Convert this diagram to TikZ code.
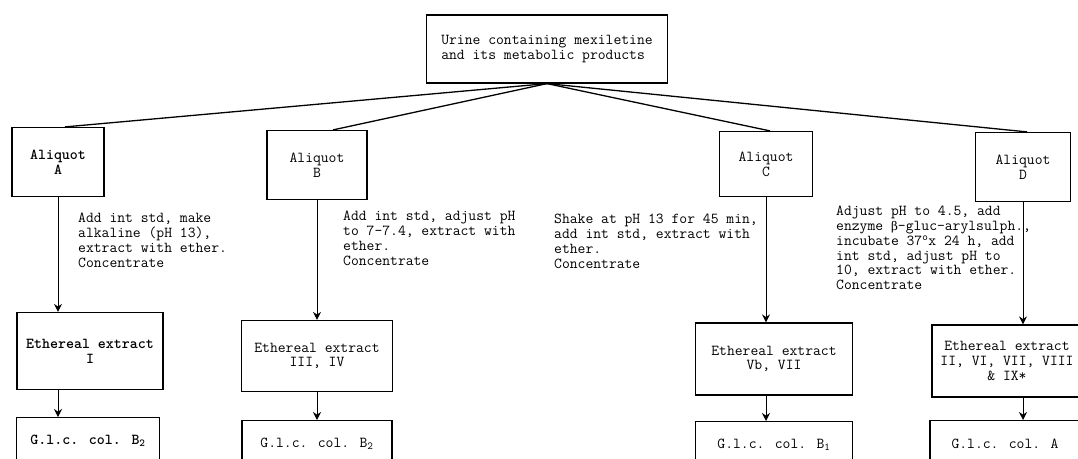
\documentclass[tikz,border=0pt]{standalone}
\usepackage{fontspec}
\newfontfamily\greekup{DejaVu Serif}
\usetikzlibrary{positioning, arrows.meta}

\begin{document}
\begin{tikzpicture}[
  x=1pt, y=-1pt,
  every node/.style={font=\ttfamily\fontsize{15.2}{14.8}\selectfont},
  box/.style={rectangle, draw, line width=1.2pt, align=center,
              inner sep=2pt},
  aliq/.style={box, minimum width=94pt, minimum height=69pt},
  ether/.style={box, minimum width=150pt, minimum height=74pt},
  glc/.style={box, anchor=north, minimum width=148pt,
              minimum height=46pt},
  heavy/.style={font=\ttfamily\bfseries\fontsize{15.2}{14.8}\selectfont},
  note/.style={anchor=north west, align=left, inner sep=0pt},
  link/.style={line width=1.3pt},
  arr/.style={-{Stealth[length=8pt,width=8pt]}, line width=1pt}
]
\useasboundingbox (0,0) rectangle (1078,458);
\clip (0,0) rectangle (1078,458);

\node[box, align=left, minimum width=241pt, minimum height=68pt]
  (urine) at (547,49) {Urine containing mexiletine\\and its metabolic products};

\node[aliq, heavy, minimum width=92pt] (aqA) at (58,162) {Aliquot\\A};
\node[aliq, minimum width=100pt] (aqB) at (317,165) {Aliquot\\B};
\node[aliq, minimum width=93pt, minimum height=65pt] (aqC) at (766,164) {Aliquot\\C};
\node[aliq, minimum width=95pt] (aqD) at (1023,167) {Aliquot\\D};

\node[note] (nA) at (78,213) {Add int std, make\\alkaline (pH 13),\\extract with ether.\\Concentrate};
\node[note] (nB) at (343,211) {Add int std, adjust pH\\to 7-7.4, extract with\\ether.\\Concentrate};
\node[note] (nC) at (554,214) {Shake at pH 13 for 45 min,\\add int std, extract with\\ether.\\Concentrate};
\node[note] (nD) at (836,206)
  {Adjust pH to 4.5, add\\enzyme {\greekup\fontsize{12}{14}\selectfont β}-gluc-arylsulph.,\\incubate 37\textsuperscript{o}x 24 h, add\\int std, adjust pH to\\10, extract with ether.\\Concentrate};

\node[ether, heavy, minimum width=146pt, minimum height=77pt] (exA) at (90,351) {Ethereal extract\\I};
\node[ether, minimum width=151pt, minimum height=71pt] (exB) at (317,356) {Ethereal extract\\III, IV};
\node[ether, minimum width=157pt, minimum height=72pt] (exC) at (774,359) {Ethereal extract\\Vb, VII};
\node[ether, minimum width=150pt, minimum height=72pt] (exD) at (1007,361) {Ethereal extract\\II, VI, VII, VIII\\\& IX*};

\node[glc, heavy, minimum width=143pt] (glcA) at (88,417) {G.l.c. col. B\textsubscript{2}};
\node[glc, minimum width=150pt] (glcB) at (317,420) {G.l.c. col. B\textsubscript{2}};
\node[glc, minimum width=157pt] (glcC) at (774,421) {G.l.c. col. B\textsubscript{1}};
\node[glc, minimum width=150pt] (glcD) at (1005,420) {G.l.c. col. A};

% from the urine sample to each aliquot
\draw[link] (urine.south) -- ([xshift=7pt]aqA.north);
\draw[link] (urine.south) -- ([xshift=16pt]aqB.north);
\draw[link] (urine.south) -- ([xshift=4pt]aqC.north);
\draw[link] (urine.south) -- ([xshift=4pt]aqD.north);

\draw[arr] (aqA.south) -- (aqA.south |- exA.north);
\draw[arr] (aqB.south) -- (aqB.south |- exB.north);
\draw[arr] (aqC.south) -- (aqC.south |- exC.north);
\draw[arr] (aqD.south) -- (aqD.south |- exD.north);

\draw[arr] (exA.south -| aqA) -- (glcA.north -| aqA);
\draw[arr] (exB.south -| aqB) -- (glcB.north -| aqB);
\draw[arr] (exC.south -| aqC) -- (glcC.north -| aqC);
\draw[arr] (exD.south -| aqD) -- (glcD.north -| aqD);
\end{tikzpicture}
\end{document}
